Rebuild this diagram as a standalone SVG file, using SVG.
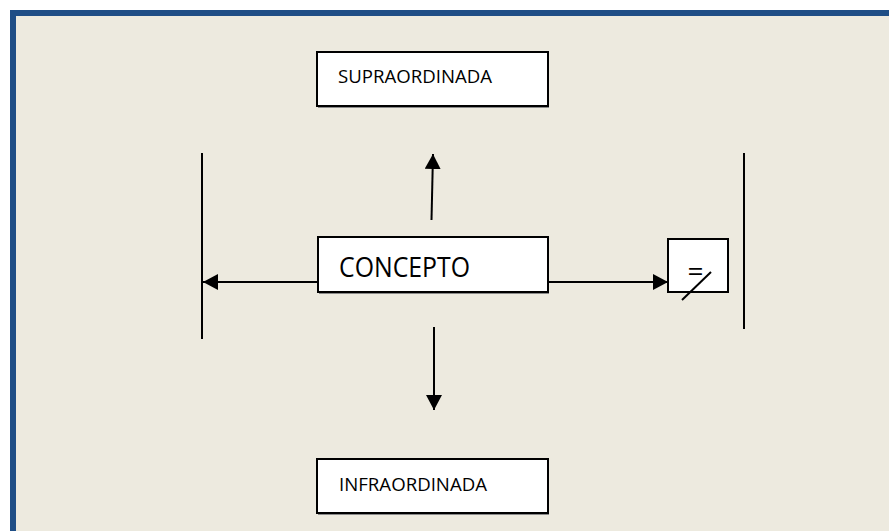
<svg xmlns="http://www.w3.org/2000/svg" width="889" height="531" viewBox="0 0 889 531">
  <style>
    .box { fill: #ffffff; stroke: #000000; stroke-width: 2; }
    .shadow { fill: none; stroke: #8a8a8a; stroke-width: 1; }
    .label { font-family: "Open Sans", "Liberation Sans", sans-serif; fill: #000000; }
    .line { stroke: #000000; stroke-width: 2; fill: none; }
    .arrow { stroke: #000000; stroke-width: 2; fill: none; marker-end: url(#head); }
  </style>
  <defs>
    <marker id="head" markerUnits="userSpaceOnUse" markerWidth="17" markerHeight="17" refX="15" refY="8" orient="auto">
      <path d="M0,0 L15,8 L0,16 Z" fill="#000000"/>
    </marker>
  </defs>

  <!-- page background and frame -->
  <rect x="0" y="0" width="889" height="531" fill="#ffffff"/>
  <rect x="10" y="10" width="879" height="521" fill="#1f4e86"/>
  <rect x="16" y="16" width="873" height="515" fill="#edeadf"/>

  <!-- connectors -->
  <g id="connectors">
    <line class="line" x1="202" y1="153" x2="202" y2="339"/>
    <line class="line" x1="744" y1="153" x2="744" y2="329"/>
    <line class="arrow" x1="431.5" y1="220" x2="433" y2="154"/>
    <line class="arrow" x1="434" y1="327" x2="434" y2="410"/>
    <line class="arrow" x1="317" y1="282" x2="203" y2="282"/>
    <line class="arrow" x1="548" y1="282" x2="668" y2="282"/>
  </g>

  <g id="supraordinada">
    <line class="shadow" x1="318" y1="107.5" x2="549" y2="107.5"/>
    <rect class="box" x="317" y="52" width="231" height="54"/>
    <text class="label" x="338" y="83" font-size="18" textLength="154" lengthAdjust="spacingAndGlyphs">SUPRAORDINADA</text>
  </g>

  <g id="concepto">
    <line class="shadow" x1="319" y1="293.5" x2="549" y2="293.5"/>
    <rect class="box" x="318" y="237" width="230" height="55"/>
    <text class="label" x="339" y="277" font-size="28" textLength="131" lengthAdjust="spacingAndGlyphs">CONCEPTO</text>
  </g>

  <g id="infraordinada">
    <line class="shadow" x1="318" y1="514.5" x2="549" y2="514.5"/>
    <rect class="box" x="317" y="459" width="231" height="54"/>
    <text class="label" x="339" y="491" font-size="18" textLength="148" lengthAdjust="spacingAndGlyphs">INFRAORDINADA</text>
  </g>

  <g id="distinto">
    <rect class="box" x="668" y="239" width="60" height="53"/>
    <text class="label" x="695.5" y="281" font-size="28" text-anchor="middle">=</text>
    <line class="line" x1="682" y1="300" x2="711" y2="272" stroke-width="1.5"/>
  </g>
</svg>
